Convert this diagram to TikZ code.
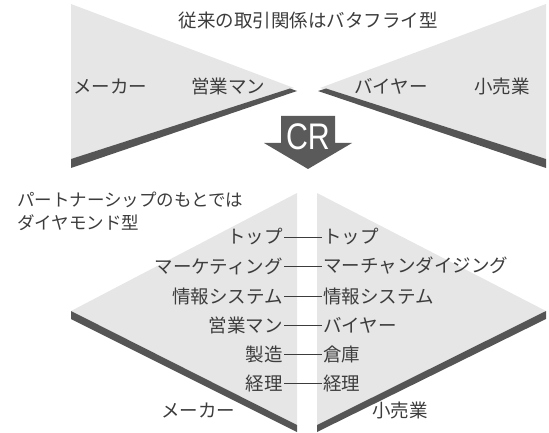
\documentclass[tikz,border=0pt]{standalone}
\usepackage{fontspec}
\setmainfont{Noto Sans CJK JP}
\newfontfamily\crfont{Liberation Sans}
\definecolor{lightg}{HTML}{E6E6E6}
\definecolor{bandg}{HTML}{555555}
\definecolor{arrowg}{HTML}{5A5A5A}
\definecolor{txtg}{HTML}{3C3C3C}
\begin{document}
\begin{tikzpicture}[x=1pt,y=-1pt,
  lite/.style={fill=lightg, draw=none},
  band/.style={fill=bandg, draw=none},
  lbl/.style={text=txtg, inner sep=1pt, font=\fontsize{18.5}{20}\selectfont},
  note/.style={text=txtg, inner sep=0pt, anchor=west, font=\fontsize{17.5}{19}\selectfont},
  lrow/.style={lbl, anchor=east},
  rrow/.style={lbl, anchor=west},
  link/.style={draw=txtg, line width=0.8pt}]
\useasboundingbox (0,0) rectangle (549,433);
% top butterfly
\fill[lite] (71,4) -- (294,88) -- (71,159) -- cycle;
\fill[band] (71,159) -- (290,88.5) -- (297,91) -- (71,168) -- cycle;
\fill[lite] (546,4) -- (320,88) -- (546,159) -- cycle;
\fill[band] (546,159) -- (326,88.5) -- (318,91) -- (546,168) -- cycle;
\node[lbl] (title) at (308,21) {従来の取引関係はバタフライ型};
\node[lbl] (tmk) at (110,86) {メーカー};
\node[lbl] (tsm) at (228,86) {営業マン};
\node[lbl] (tby) at (391,86) {バイヤー};
\node[lbl] (trt) at (502,86) {小売業};
% CR arrow
\fill[arrowg] (281,116) -- (335,116) -- (335,143) -- (352,143) -- (308,169) -- (264,143) -- (281,143) -- cycle;
\node[text=white, inner sep=0pt, font=\crfont\fontsize{37}{37}\selectfont] (cr) at (308,137) {\scalebox{0.82}[1]{CR}};
% notes
\node[note] (n1) at (17,200) {パートナーシップのもとでは};
\node[note] (n2) at (17,223) {ダイヤモンド型};
% diamond
\fill[lite] (297,193) -- (71,311) -- (297,425) -- cycle;
\fill[band] (71,311) -- (297,425) -- (297,432) -- (71,319) -- cycle;
\fill[lite] (317,193) -- (546,311) -- (317,425) -- cycle;
\fill[band] (546,311) -- (317,425) -- (317,432) -- (546,319) -- cycle;
% rows
\node[lrow] (l1) at (284,237) {トップ};
\node[rrow] (r1) at (322,237) {トップ};
\node[lrow] (l2) at (284,266) {マーケティング};
\node[rrow] (r2) at (322,266) {マーチャンダイジング};
\node[lrow] (l3) at (284,296) {情報システム};
\node[rrow] (r3) at (322,296) {情報システム};
\node[lrow] (l4) at (284,325) {営業マン};
\node[rrow] (r4) at (322,325) {バイヤー};
\node[lrow] (l5) at (284,354) {製造};
\node[rrow] (r5) at (322,354) {倉庫};
\node[lrow] (l6) at (284,383) {経理};
\node[rrow] (r6) at (322,383) {経理};
\foreach \i in {1,...,6} \draw[link] (l\i.east) -- (r\i.west);
\node[lbl] (bmk) at (198,410) {メーカー};
\node[lbl] (brt) at (400,410) {小売業};
\end{tikzpicture}
\end{document}
